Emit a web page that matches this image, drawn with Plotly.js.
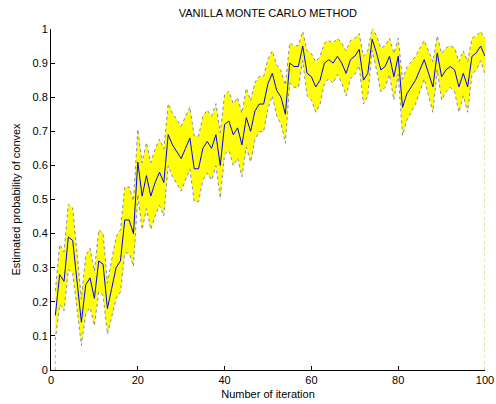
<!DOCTYPE html>
<html>
<head>
<meta charset="utf-8">
<script src="https://cdn.plot.ly/plotly-3.0.1.min.js"></script>
<style>html,body{margin:0;padding:0;background:#fff;}#chart{width:496px;height:404px;}</style>
</head>
<body>
<div id="chart"></div>
<script>
var iterations = [];
for (var k = 1; k <= 100; k++) iterations.push(k);

var meanProb = [0.16,0.28,0.26,0.39,0.38,0.26,0.14,0.25,0.27,0.21,
0.32,0.31,0.18,0.24,0.30,0.32,0.44,0.44,0.40,0.61,
0.51,0.57,0.51,0.55,0.58,0.55,0.69,0.66,0.64,0.62,
0.65,0.68,0.59,0.59,0.65,0.67,0.65,0.69,0.60,0.72,
0.73,0.69,0.71,0.66,0.74,0.70,0.76,0.78,0.78,0.84,
0.87,0.82,0.80,0.75,0.90,0.89,0.89,0.95,0.87,0.86,
0.83,0.85,0.90,0.91,0.90,0.92,0.90,0.87,0.91,0.92,
0.94,0.85,0.87,0.97,0.93,0.88,0.89,0.92,0.86,0.92,
0.77,0.81,0.83,0.85,0.88,0.91,0.87,0.83,0.93,0.86,
0.88,0.89,0.88,0.83,0.87,0.83,0.92,0.93,0.95,0.92];

var upperProb = [0.232,0.368,0.346,0.486,0.475,0.346,0.208,0.335,0.357,0.290,
0.411,0.401,0.255,0.324,0.390,0.411,0.537,0.537,0.496,0.706,
0.608,0.667,0.608,0.648,0.677,0.648,0.781,0.753,0.734,0.715,
0.744,0.771,0.686,0.686,0.744,0.762,0.744,0.781,0.696,0.808,
0.817,0.781,0.799,0.753,0.826,0.790,0.844,0.861,0.861,0.912,
0.936,0.895,0.878,0.835,0.959,0.951,0.951,0.993,0.936,0.928,
0.904,0.920,0.959,0.966,0.959,0.973,0.959,0.936,0.966,0.973,
0.987,0.920,0.936,1.003,0.980,0.944,0.951,0.973,0.928,0.973,
0.853,0.887,0.904,0.920,0.944,0.966,0.936,0.904,0.980,0.928,
0.944,0.951,0.944,0.904,0.936,0.904,0.973,0.980,0.993,0.973];

var lowerProb = [0.088,0.192,0.174,0.294,0.285,0.174,0.072,0.165,0.183,0.130,
0.229,0.219,0.105,0.156,0.210,0.229,0.343,0.343,0.304,0.514,
0.412,0.473,0.412,0.452,0.483,0.452,0.599,0.567,0.546,0.525,
0.557,0.589,0.494,0.494,0.557,0.578,0.557,0.599,0.504,0.632,
0.643,0.599,0.621,0.567,0.654,0.610,0.676,0.699,0.699,0.768,
0.804,0.745,0.722,0.665,0.841,0.829,0.829,0.907,0.804,0.792,
0.756,0.780,0.841,0.854,0.841,0.867,0.841,0.804,0.854,0.867,
0.893,0.780,0.804,0.937,0.880,0.816,0.829,0.867,0.792,0.867,
0.688,0.733,0.756,0.780,0.816,0.854,0.804,0.756,0.880,0.792,
0.816,0.829,0.816,0.756,0.804,0.756,0.867,0.880,0.907,0.867];

var edgeX1 = [iterations[0], iterations[0]];
var edgeY1 = [0, lowerProb[0]];
var edgeX2 = [iterations[99], iterations[99]];
var edgeY2 = [0, lowerProb[99]];

var traces = [
  {x: iterations, y: lowerProb, mode: 'lines', line: {color: '#6666dd', width: 0.8, dash: 'dot'}, hoverinfo: 'skip', showlegend: false},
  {x: iterations, y: upperProb, mode: 'lines', fill: 'tonexty', fillcolor: '#ffff00', line: {color: '#6666dd', width: 0.8, dash: 'dot'}, hoverinfo: 'skip', showlegend: false},
  {x: edgeX1, y: edgeY1, mode: 'lines', line: {color: '#cccc00', width: 1, dash: 'dot'}, showlegend: false},
  {x: edgeX2, y: edgeY2, mode: 'lines', line: {color: '#cccc00', width: 1, dash: 'dot'}, showlegend: false},
  {x: iterations, y: meanProb, mode: 'lines', line: {color: '#0000ff', width: 1}, showlegend: false}
];

var layout = {
  width: 496, height: 404,
  margin: {l: 51, r: 11, t: 29, b: 34},
  paper_bgcolor: '#ffffff', plot_bgcolor: '#ffffff',
  font: {family: 'Liberation Sans, Arial, sans-serif', size: 11, color: '#000'},
  title: {text: 'VANILLA MONTE CARLO METHOD', x: 0.54, xanchor: 'center', y: 0.968, yanchor: 'middle', font: {size: 11, color: '#000'}},
  xaxis: {
    range: [0, 100], tickvals: [0,20,40,60,80,100], ticktext: ['0','20','40','60','80','100'],
    ticks: 'inside', ticklen: 4, tickcolor: '#000', showline: true, linecolor: '#000', linewidth: 1,
    showgrid: false, zeroline: false,
    title: {text: 'Number of iteration', font: {size: 11}, standoff: 5},
    tickfont: {size: 11}
  },
  yaxis: {
    range: [0, 1], tickvals: [0,0.1,0.2,0.3,0.4,0.5,0.6,0.7,0.8,0.9,1],
    ticktext: ['0','0.1','0.2','0.3','0.4','0.5','0.6','0.7','0.8','0.9','1'],
    ticks: 'inside', ticklen: 4, tickcolor: '#000', showline: true, linecolor: '#000', linewidth: 1,
    showgrid: false, zeroline: false,
    title: {text: 'Estimated probability of convex', font: {size: 11}, standoff: 9},
    tickfont: {size: 11}
  }
};

Plotly.newPlot('chart', traces, layout, {staticPlot: true, displayModeBar: false});
</script>
</body>
</html>
